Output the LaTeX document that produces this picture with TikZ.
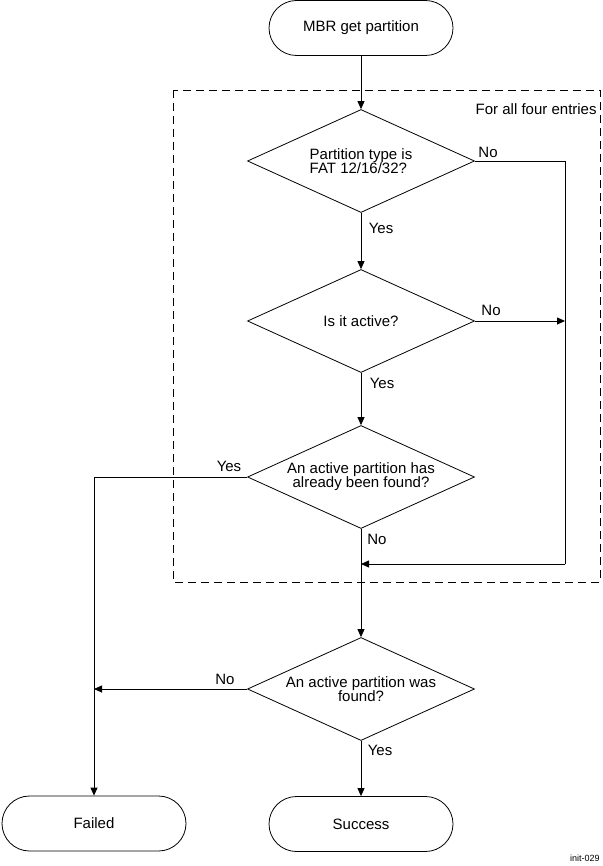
\documentclass[tikz,border=0pt]{standalone}
\usepackage{fontspec}
\setmainfont{Liberation Sans}
\usetikzlibrary{shapes.geometric,arrows.meta}

\begin{document}
\begin{tikzpicture}[x=1pt, y=-1pt, >={Triangle[length=8pt,width=7pt]}, line width=0.8pt,
    terminal/.style={draw, rectangle, rounded corners=27.5pt, minimum width=184pt, minimum height=55pt, font=\fontsize{15}{14}\selectfont},
    decision/.style={draw, diamond, aspect=2.2, inner sep=0pt, minimum width=227pt, minimum height=103pt, align=center, font=\fontsize{15}{14}\selectfont},
    lbl/.style={font=\fontsize{15}{14}\selectfont, inner sep=0pt}]
    \useasboundingbox (0,0) rectangle (602,866);

    % 起点
    \node[terminal] (start) at (361,28) {MBR get partition};

    % 循环框
    \draw[dash pattern=on 8pt off 5pt] (173,90) rectangle (600,582);
    \node[lbl, anchor=east] (loopname) at (597,109) {For all four entries};

    % 判断
    \node[decision, align=left] (fat) at (361,161) {Partition type is\\FAT 12/16/32?};
    \node[decision] (active) at (361,321) {Is it active?};
    \node[decision] (found) at (361,477) {An active partition has\\already been found?};
    \node[decision] (wasfound) at (361,689) {An active partition was\\found?};

    % 终点
    \node[terminal] (failed) at (94,823.5) {Failed};
    \node[terminal] (success) at (361,824) {Success};

    % 右侧汇合线
    \coordinate (railtop) at (565,161);
    \coordinate (railbot) at (565,564);
    \coordinate (merge) at (361,564);

    % 连线
    \draw[->] (start) -- (fat);
    \draw[->] (fat) -- (active);
    \draw[->] (active) -- (found);
    \draw (fat.east) -- (railtop) -- (railbot);
    \draw[->] (active.east) -- (active.east -| railtop);
    \draw[->] (railbot) -- (merge);
    \draw[->] (found.south) -- (wasfound.north);
    \draw[->] (found.west) -- (found.west -| failed.north) -- (failed.north);
    \draw[->] (wasfound.west) -- (wasfound.west -| failed.north);
    \draw[->] (wasfound) -- (success);

    % 标注
    \node[lbl] (no1) at (488,152) {No};
    \node[lbl] (yes1) at (381,228) {Yes};
    \node[lbl] (no2) at (491,310) {No};
    \node[lbl] (yes2) at (382,383) {Yes};
    \node[lbl] (yes3) at (229,466) {Yes};
    \node[lbl] (no3) at (377,539) {No};
    \node[lbl] (no4) at (225,679) {No};
    \node[lbl] (yes4) at (380,750) {Yes};

    \node[font=\fontsize{9}{9}\selectfont, anchor=south east, inner sep=0pt] (figid) at (600,862) {init-029};
\end{tikzpicture}
\end{document}
